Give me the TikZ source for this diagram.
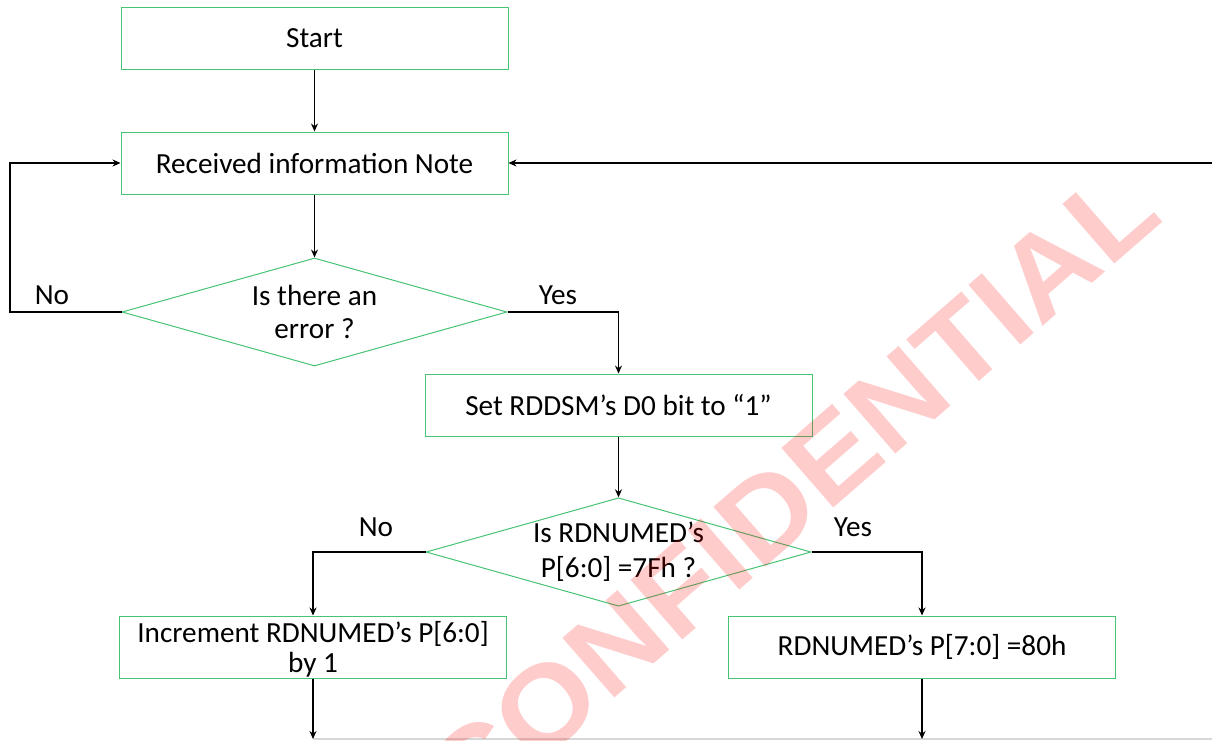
\documentclass[tikz,border=0pt]{standalone}
\usepackage{fontspec}
\setmainfont{Carlito}
\newfontfamily\wmfont{Liberation Sans}
\usetikzlibrary{shapes.geometric,arrows.meta}
\definecolor{boxgreen}{RGB}{70,195,115}
\definecolor{edgegray}{RGB}{215,215,215}
\begin{document}
\begin{tikzpicture}[x=1pt,y=-1pt,
  txt/.style={font=\fontsize{29.2}{33}\selectfont},
  box/.style={txt,draw=boxgreen,line width=1pt,minimum width=387pt,minimum height=62pt,inner sep=0pt,align=center},
  dec/.style={txt,draw=boxgreen,line width=1pt,shape=diamond,aspect=3.5,minimum width=385pt,minimum height=108pt,inner sep=0pt,align=center},
  conn/.style={draw=black,line width=1.7pt,-{Stealth[length=8pt,width=7pt]}},
  lbl/.style={txt,inner sep=0pt},
  wm/.style={font=\wmfont\bfseries\fontsize{115}{115}\selectfont,text=red,text opacity=0.2,inner sep=0pt,rotate=41,xscale=1.08}]
\useasboundingbox (0,0) rectangle (1212,740);
\clip (0,0) rectangle (1212,740);
\fill[white] (0,0) rectangle (1212,740);

\node[box] (start) at (314.5,38.5) {Start};
\node[box] (recv) at (314.5,163) {Received information Note};
\node[dec] (dec1) at (314.5,312) {Is there an\\error ?};
\node[box] (set) at (618.5,405) {Set RDDSM’s D0 bit to “1”};
\node[dec] (dec2) at (618.5,552) {Is RDNUMED’s\\[2pt]P[6:0] =7Fh ?};
\node[box,text depth=0pt] (inc) at (313,647) {Increment RDNUMED’s P[6:0]\\[-3pt]by 1};
\node[box] (rdn) at (922,647) {RDNUMED’s P[7:0] =80h};

\node[lbl] (no1) at (52,295) {No};
\node[lbl] (yes1) at (558,295) {Yes};
\node[lbl] (no2) at (376,527) {No};
\node[lbl] (yes2) at (853,527) {Yes};

\coordinate (loopL) at (10,312);
\coordinate (rightin) at (1212,163);
\coordinate (outL) at (313,739);
\coordinate (outR) at (922,739);
\coordinate (edgeR) at (1212,739);

\draw[edgegray,line width=1.2pt] (outL) -- (edgeR);

\draw[conn] (start.south) -- (recv.north);
\draw[conn] (recv.south) -- (dec1.north);
\draw[conn] (dec1.west) -- (loopL) |- (recv.west);
\draw[conn] (dec1.east) -| (set.north);
\draw[conn] (set.south) -- (dec2.north);
\draw[conn] (dec2.west) -| (inc.north);
\draw[conn] (dec2.east) -| (rdn.north);
\draw[conn] (inc.south) -- (outL);
\draw[conn] (rdn.south) -- (outR);
\draw[conn] (rightin) -- (recv.east);

\node[wm] (mark) at (791,493) {CONFIDENTIAL};
\end{tikzpicture}
\end{document}
